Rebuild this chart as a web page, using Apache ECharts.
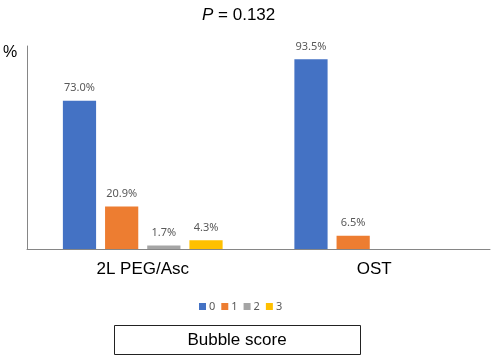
<!DOCTYPE html>
<html><head><meta charset="utf-8">
<script src="https://cdn.jsdelivr.net/npm/echarts@6/dist/echarts.min.js"></script>
<style>html,body{margin:0;padding:0;background:#fff}#c{width:491px;height:357px}</style>
</head><body><div id="c"></div>
<script>
const categories = ['2L PEG/Asc', 'OST'];
const seriesNames = ['0', '1', '2', '3'];
const score0 = [73.0, 93.5];
const score1 = [20.9, 6.5];
const score2 = [1.7, null];
const score3 = [4.3, null];
const colors = ['#4472C4', '#ED7D31', '#A5A5A5', '#FFC000'];

const chart = echarts.init(document.getElementById('c'), null, {renderer: 'canvas'});
const values = [score0, score1, score2, score3];
chart.setOption({
  animation: false,
  title: {
    text: '{i|P} = 0.132', left: 197, top: 2,
    textStyle: {fontFamily: 'Liberation Sans', fontSize: 17, fontWeight: 'normal', color: '#000',
      rich: {i: {fontFamily: 'Liberation Sans', fontStyle: 'italic', fontSize: 17, color: '#000'}}}
  },
  legend: {
    left: 194, top: 296, itemWidth: 7, itemHeight: 7, itemGap: 6, icon: 'rect',
    textStyle: {fontFamily: 'Noto Sans', fontSize: 11, color: '#595959', padding: [0, 0, 0, -2]},
    data: seriesNames
  },
  grid: {left: 27, right: 1, top: 46, bottom: 108},
  xAxis: {
    type: 'category', data: categories,
    axisLine: {lineStyle: {color: '#868686', width: 1}},
    axisTick: {show: false},
    axisLabel: {fontFamily: 'Liberation Sans', fontSize: 17, color: '#000', margin: 12}
  },
  yAxis: {
    type: 'value', min: 0, max: 100,
    axisLine: {show: true, lineStyle: {color: '#868686', width: 1}},
    axisTick: {show: false}, axisLabel: {show: false}, splitLine: {show: false}
  },
  series: seriesNames.map((n, i) => ({
    name: n, type: 'bar', data: values[i],
    barGap: '27%', barCategoryGap: '31%',
    itemStyle: {color: colors[i]},
    label: {show: true, position: 'top', distance: 7,
      formatter: p => p.value == null ? '' : p.value.toFixed(1) + '%',
      fontFamily: 'Noto Sans', fontSize: 11, color: '#595959'}
  })),
  graphic: [
    {type: 'text', left: 3, top: 45, style: {text: '%', fontFamily: 'Liberation Sans', fontSize: 16, fill: '#000'}},
    {type: 'rect', shape: {x: 114.5, y: 325.5, width: 246, height: 29},
      style: {fill: '#fff', stroke: '#222', lineWidth: 1}},
    {type: 'text', x: 237, y: 340, style: {text: 'Bubble score', fontFamily: 'Liberation Sans', fontSize: 17, fill: '#000', align: 'center', verticalAlign: 'middle'}}
  ]
});
</script></body></html>
